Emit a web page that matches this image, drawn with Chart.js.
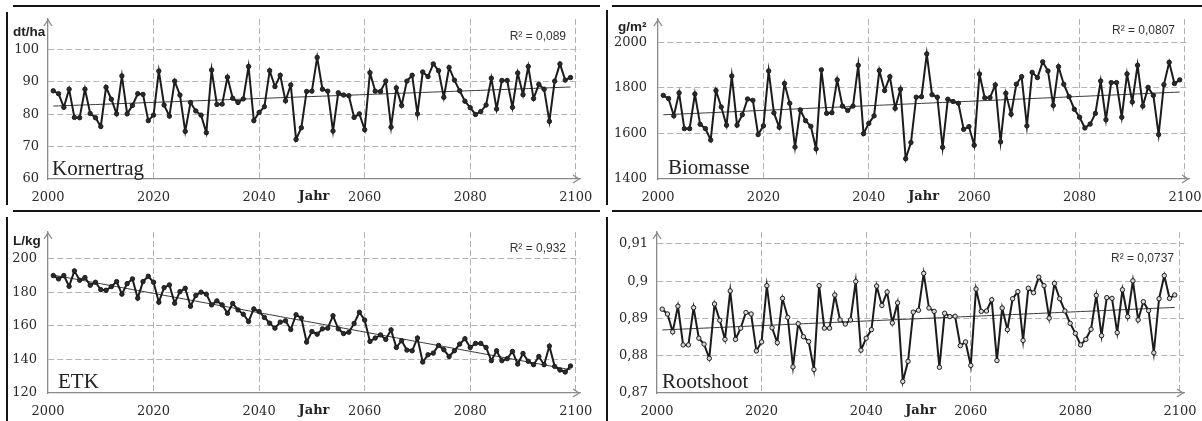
<!DOCTYPE html>
<html>
<head>
<meta charset="utf-8">
<script src="https://cdn.jsdelivr.net/npm/chart.js@4.4.1/dist/chart.umd.min.js"></script>
<style>
  body { margin: 0; background: #fff; width: 1202px; height: 421px; position: relative; overflow: hidden; }
  canvas { position: absolute; }
  .rule { position: absolute; background: #151515; z-index: 2; }
</style>
</head>
<body>
<!-- frame lines round the four panels -->
<div class="rule" style="left:13px;top:5px;width:587px;height:2px"></div>
<div class="rule" style="left:6px;top:12px;width:2px;height:193px"></div>
<div class="rule" style="left:612px;top:5px;width:590px;height:2px"></div>
<div class="rule" style="left:606px;top:10px;width:2px;height:195px"></div>
<div class="rule" style="left:13px;top:210px;width:587px;height:2px"></div>
<div class="rule" style="left:6px;top:217px;width:2px;height:204px"></div>
<div class="rule" style="left:612px;top:210px;width:590px;height:2px"></div>
<div class="rule" style="left:606px;top:217px;width:2px;height:204px"></div>

<canvas id="kornChart" width="600" height="205" style="left:0;top:0"></canvas>
<canvas id="bioChart" width="602" height="205" style="left:600px;top:0"></canvas>
<canvas id="etkChart" width="600" height="216" style="left:0;top:205px"></canvas>
<canvas id="rootChart" width="602" height="216" style="left:600px;top:205px"></canvas>

<script>
// Years of the simulation run
const years = Array.from({ length: 99 }, (_, i) => 2001 + i);
const xTicks = [2000, 2020, 2040, 2060, 2080, 2100];

// Kornertrag (dt/ha)
const kornertrag = [
  87.2, 86.3, 82.1, 87.7, 79.0, 78.9, 87.7, 80.2, 78.9, 76.2,
  88.3, 84.6, 80.1, 91.8, 80.1, 82.7, 86.3, 86.1, 78.0, 79.7,
  93.3, 82.8, 79.4, 90.2, 85.9, 74.7, 83.6, 81.0, 79.7, 74.3,
  93.6, 83.0, 83.1, 91.4, 84.9, 83.6, 84.7, 94.7, 78.0, 80.5,
  82.3, 93.4, 88.5, 92.0, 84.1, 89.0, 72.2, 75.8, 87.0, 87.1,
  97.5, 87.7, 87.1, 74.8, 86.6, 85.9, 85.7, 79.0, 80.1, 75.2,
  92.8, 87.1, 87.0, 90.2, 76.0, 88.1, 82.7, 90.2, 92.0, 80.1,
  93.0, 91.6, 95.5, 93.4, 85.2, 94.4, 90.5, 87.2, 84.0, 82.0,
  79.9, 80.8, 82.8, 91.1, 81.6, 90.4, 90.4, 82.1, 92.7, 86.0,
  94.7, 84.8, 89.2, 87.7, 77.8, 90.2, 95.5, 90.5, 91.3
];
const kornTicks = [60, 70, 80, 90, 100];

// Biomasse (g/m²)
const biomasse = [
  1767, 1753, 1677, 1778, 1621, 1621, 1773, 1640, 1621, 1571,
  1788, 1716, 1636, 1852, 1636, 1682, 1751, 1745, 1595, 1633,
  1874, 1690, 1627, 1819, 1732, 1540, 1703, 1656, 1631, 1532,
  1879, 1688, 1691, 1835, 1720, 1701, 1720, 1899, 1599, 1644,
  1677, 1876, 1788, 1849, 1710, 1794, 1489, 1560, 1759, 1761,
  1949, 1770, 1759, 1539, 1750, 1740, 1732, 1618, 1630, 1548,
  1861, 1756, 1757, 1813, 1563, 1776, 1684, 1816, 1849, 1633,
  1868, 1845, 1914, 1874, 1723, 1893, 1816, 1761, 1706, 1671,
  1624, 1641, 1688, 1830, 1660, 1823, 1823, 1671, 1861, 1738,
  1899, 1720, 1802, 1767, 1595, 1814, 1912, 1819, 1835
];
const bioTicks = [1400, 1600, 1800, 2000];

// ETK (L/kg)
const etk = [
  190.1, 188.1, 190.1, 183.7, 192.9, 187.3, 188.9, 184.3, 186.1, 181.7,
  181.3, 183.5, 186.5, 179.0, 185.3, 188.1, 176.6, 186.5, 189.7, 186.1,
  174.2, 182.9, 184.5, 173.6, 180.5, 182.5, 171.8, 178.2, 180.2, 179.0,
  172.6, 175.0, 172.6, 167.6, 173.4, 169.6, 167.0, 162.7, 170.2, 168.6,
  165.1, 161.7, 158.7, 162.3, 163.1, 157.9, 166.7, 164.7, 150.4, 156.7,
  155.1, 158.3, 158.7, 166.1, 158.3, 155.5, 156.3, 161.5, 168.2, 163.5,
  150.8, 152.8, 154.7, 152.0, 157.7, 147.2, 151.2, 145.6, 145.2, 152.8,
  138.5, 142.8, 143.8, 148.4, 145.8, 141.8, 145.2, 149.2, 152.4, 147.2,
  149.6, 149.6, 147.2, 139.3, 145.2, 139.3, 140.5, 144.8, 137.3, 143.6,
  138.9, 136.9, 141.8, 136.9, 148.0, 135.9, 133.7, 132.5, 136.1
];
const etkTicks = [120, 140, 160, 180, 200];

// Root/shoot ratio
const rootshoot = [
  0.8925, 0.8912, 0.8864, 0.8933, 0.8829, 0.8829, 0.8929, 0.8847, 0.8831, 0.8793,
  0.8939, 0.8895, 0.8844, 0.8974, 0.8844, 0.8874, 0.8916, 0.8912, 0.8813, 0.8837,
  0.8988, 0.8875, 0.8835, 0.8954, 0.8903, 0.8770, 0.8886, 0.8851, 0.8838, 0.8763,
  0.8988, 0.8874, 0.8874, 0.8963, 0.8896, 0.8885, 0.8896, 0.8999, 0.8815, 0.8847,
  0.8870, 0.8987, 0.8935, 0.8971, 0.8888, 0.8942, 0.8731, 0.8785, 0.8917, 0.8922,
  0.9021, 0.8928, 0.8919, 0.8769, 0.8914, 0.8905, 0.8906, 0.8827, 0.8837, 0.8774,
  0.8979, 0.8919, 0.8920, 0.8950, 0.8787, 0.8928, 0.8870, 0.8953, 0.8972, 0.8841,
  0.8981, 0.8969, 0.9011, 0.8988, 0.8901, 0.8994, 0.8953, 0.8920, 0.8887, 0.8860,
  0.8829, 0.8844, 0.8871, 0.8962, 0.8854, 0.8956, 0.8954, 0.8862, 0.8977, 0.8905,
  0.9001, 0.8896, 0.8945, 0.8921, 0.8808, 0.8953, 0.9015, 0.8954, 0.8963
];
const rootTicks = [0.87, 0.88, 0.89, 0.9, 0.91];

const r2Labels = ['R² = 0,089', 'R² = 0,0807', 'R² = 0,932', 'R² = 0,0737'];

// least squares trend line over the years
function trend(values) {
  const n = values.length;
  const mx = years.reduce((a, b) => a + b, 0) / n;
  const my = values.reduce((a, b) => a + b, 0) / n;
  let sxy = 0, sxx = 0;
  years.forEach((x, i) => { sxy += (x - mx) * (values[i] - my); sxx += (x - mx) * (x - mx); });
  const k = sxy / sxx;
  return years.map(x => ({ x: x, y: my + k * (x - mx) }));
}

const serif = '"DejaVu Serif", serif';
const sans = '"Liberation Sans", Arial, sans-serif';

// arrows, unit, series name, R² and the "Jahr" caption
const panelText = {
  id: 'panelText',
  afterDraw(chart) {
    const c = chart.ctx, a = chart.chartArea, o = chart.options.plugins.panelText;
    c.save();
    c.strokeStyle = '#8a8a8a';
    c.lineWidth = 1.3;
    c.beginPath();
    c.moveTo(a.left - 4, a.top + 7); c.lineTo(a.left, a.top + 1); c.lineTo(a.left + 4, a.top + 7);
    c.moveTo(a.right - 7, a.bottom - 4); c.lineTo(a.right - 1, a.bottom); c.lineTo(a.right - 7, a.bottom + 4);
    c.stroke();

    c.fillStyle = '#222';
    c.textBaseline = 'alphabetic';
    if (o.unit) {
      c.font = 'bold 13.5px ' + sans;
      c.textAlign = 'left';
      c.fillText(o.unit, o.unitPos[0], o.unitPos[1]);
    }
    c.font = '21px "Liberation Serif", serif';
    c.textAlign = 'left';
    c.fillText(o.name, o.namePos[0], o.namePos[1]);

    c.font = '12px ' + sans;
    c.fillStyle = '#333';
    c.textAlign = 'right';
    c.fillText(o.r2, o.r2Pos[0], o.r2Pos[1]);

    c.font = 'bold 13px ' + serif;
    c.fillStyle = '#222';
    c.textAlign = 'center';
    c.textBaseline = 'middle';
    c.fillText('Jahr', chart.scales.x.getPixelForValue(2050.4), a.bottom + 18);
    c.restore();
  }
};

function makePanel(id, values, opts) {
  const gridColor = ctx => ctx.index === 0 ? 'rgba(0,0,0,0)' : '#b3b3b3';
  return new Chart(document.getElementById(id).getContext('2d'), {
    type: 'line',
    data: {
      datasets: [{
        data: years.map((x, i) => ({ x: x, y: values[i] })),
        borderColor: '#1c1c1c',
        borderWidth: 2,
        pointRadius: 2.2,
        pointBackgroundColor: opts.pointFill || '#2a2a2a',
        pointBorderColor: '#1c1c1c',
        pointBorderWidth: 1,
        tension: 0
      }, {
        data: trend(values),
        borderColor: '#3a3a3a',
        borderWidth: 1,
        pointRadius: 0
      }]
    },
    options: {
      responsive: false,
      animation: false,
      devicePixelRatio: 1,
      layout: { padding: { left: 0, top: opts.padTop, right: opts.padRight, bottom: 0 } },
      plugins: {
        legend: { display: false },
        tooltip: { enabled: false },
        panelText: opts.text
      },
      scales: {
        x: {
          type: 'linear',
          min: 2000,
          max: opts.xMax,
          afterBuildTicks: s => { s.ticks = xTicks.map(v => ({ value: v })); },
          afterFit: s => { s.height = opts.xHeight; s.paddingLeft = 0; s.paddingRight = 0; },
          grid: { color: gridColor, lineWidth: 1, drawTicks: false },
          border: { display: true, color: '#8a8a8a', width: 1.3, dash: [6, 3] },
          ticks: { padding: 11, maxRotation: 0, autoSkip: false, color: '#2b2b2b',
                   font: { family: serif, size: 13 }, callback: v => String(v) }
        },
        y: {
          min: opts.yMin,
          max: opts.yMax,
          afterBuildTicks: s => { s.ticks = opts.yTicks.map(v => ({ value: v })); },
          afterFit: s => { s.width = opts.yWidth; s.paddingTop = 0; s.paddingBottom = 0; },
          grid: { color: gridColor, lineWidth: 1, drawTicks: false },
          border: { display: true, color: '#8a8a8a', width: 1.3, dash: [6, 3] },
          ticks: { padding: opts.yPad, color: '#2b2b2b', font: { family: serif, size: 13 },
                   callback: v => opts.fmt ? opts.fmt(v) : String(v) }
        }
      }
    },
    plugins: [panelText]
  });
}

makePanel('kornChart', kornertrag, {
  yMin: 60, yMax: 109.35, yTicks: kornTicks, xMax: 2100.8,
  yWidth: 48, yPad: 9, padTop: 19, padRight: 20, xHeight: 26,
  text: { unit: 'dt/ha', unitPos: [13, 36], name: 'Kornertrag', namePos: [52, 175], r2: r2Labels[0], r2Pos: [566, 40] }
});

makePanel('bioChart', biomasse, {
  yMin: 1400, yMax: 2102, yTicks: bioTicks, xMax: 2100.76,
  yWidth: 58, yPad: 11, padTop: 19, padRight: 13, xHeight: 26,
  text: { unit: 'g/m²', unitPos: [18, 31], name: 'Biomasse', namePos: [68, 174], r2: r2Labels[1], r2Pos: [575, 34] }
});

makePanel('etkChart', etk, {
  yMin: 120, yMax: 216.1, yTicks: etkTicks, xMax: 2100.8,
  yWidth: 48, yPad: 11, padTop: 27, padRight: 20, xHeight: 28,
  text: { unit: 'L/kg', unitPos: [13, 40], name: 'ETK', namePos: [58, 183], r2: r2Labels[2], r2Pos: [566, 47] }
});

makePanel('rootChart', rootshoot, {
  yMin: 0.87, yMax: 0.9132, yTicks: rootTicks, xMax: 2100.77,
  yWidth: 57, yPad: 9, padTop: 27, padRight: 18, xHeight: 28, pointFill: '#d8d8d8',
  fmt: v => String(+v.toFixed(2)).replace('.', ','),
  text: { unit: '', name: 'Rootshoot', namePos: [62, 183], r2: r2Labels[3], r2Pos: [574, 57] }
});
</script>
</body>
</html>
